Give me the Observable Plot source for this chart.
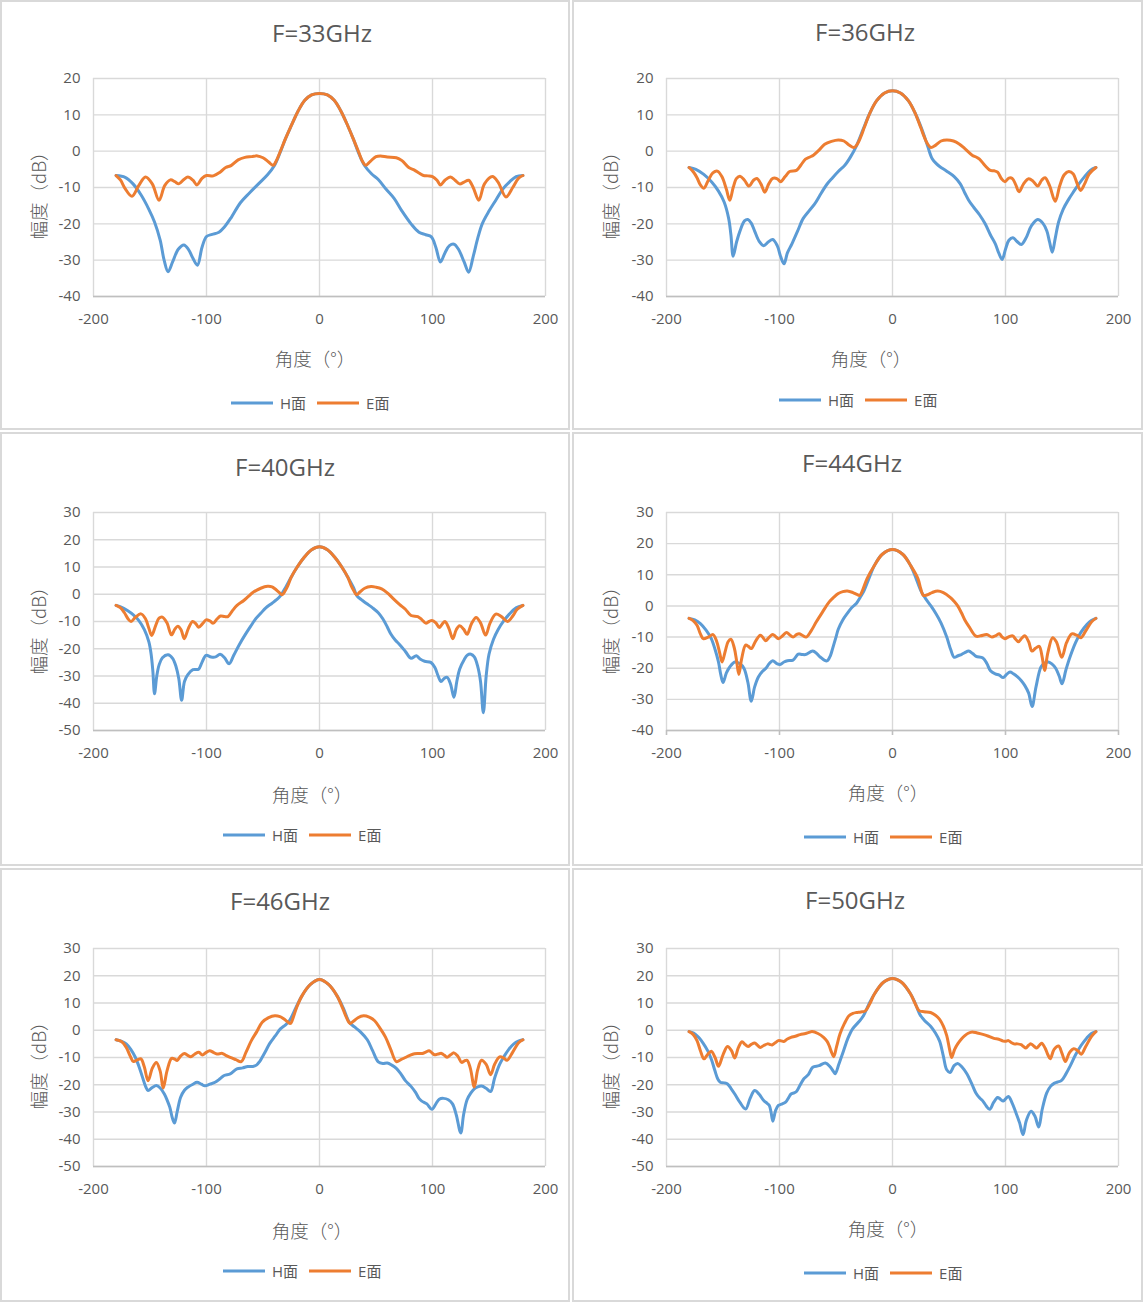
<!DOCTYPE html>
<html><head><meta charset="utf-8">
<script src="https://cdn.jsdelivr.net/npm/d3@7"></script>
<script src="https://cdn.jsdelivr.net/npm/@observablehq/plot@0.6"></script>
<style>
body{margin:0;background:#fff;}
#root{position:relative;width:1143px;height:1303px;overflow:hidden;font-family:"Open Sans","Noto Sans","Noto Sans CJK SC",sans-serif;}
.panel{position:absolute;box-sizing:border-box;border:2px solid #d9d9d9;background:#fff;}
.txt{position:absolute;white-space:nowrap;color:#595959;line-height:1;}
.title{font-size:24px;}
.axlab{font-size:18.5px;font-family:"Noto Sans CJK SC","Noto Sans",sans-serif;font-weight:300;}
.legend{position:absolute;display:flex;align-items:center;color:#595959;font-size:15px;font-family:"Open Sans","Noto Sans CJK SC",sans-serif;white-space:nowrap;line-height:1;}
.legend .sw{display:inline-block;width:42px;height:3px;margin-right:7px;}
.legend .it{display:flex;align-items:center;margin-right:11px;}
</style>
</head><body><div id="root"></div>
<script>
// ---------- data ----------
const titles = ["F=33GHz","F=36GHz","F=40GHz","F=44GHz","F=46GHz","F=50GHz"];
const seriesNames = ["H面","E面"];
const xTicks = [-200,-100,0,100,200];
const yTicksA = [-40,-30,-20,-10,0,10,20];
const yTicksB = [-50,-40,-30,-20,-10,0,10,20,30];
const yTicksC = [-40,-30,-20,-10,0,10,20,30];
const xLabel = "角度（°）";
const yLabel = "幅度（dB）";

const h33 = [[-180,-6.7],[-172,-7.2],[-165,-9],[-158,-12],[-151,-16],[-146,-19.5],[-141,-24.5],[-137.5,-30],[-134,-33.2],[-130,-30.5],[-125,-27],[-120,-25.8],[-116,-27],[-112,-29.5],[-108,-31.4],[-104,-26.5],[-100,-23.5],[-95,-22.9],[-89,-22.3],[-84,-20.8],[-78,-18.2],[-70,-14.2],[-62,-11.5],[-54,-9],[-46,-6.5],[-40,-4],[-35,-0.5],[-30,3.5],[-25,7],[-19,11],[-13,14],[-7,15.5],[0,15.9],[7,15.5],[13,14],[19,11],[25,7],[30,3.3],[35,-0.8],[40,-4],[46,-6.2],[52,-7.8],[59,-10.5],[66,-13],[73,-16.5],[81,-20],[88,-22.3],[94,-23],[99,-23.6],[103,-26.5],[107,-30.5],[111,-28],[115,-26],[119,-25.6],[123,-27],[128,-30.5],[132,-33.3],[136,-29],[140,-24],[144,-20],[150,-16.5],[156,-13.5],[162,-10.5],[168,-8.5],[174,-7],[180,-6.7]];
const e33 = [[-180,-6.7],[-176,-8],[-172,-10.3],[-166,-12.4],[-160,-9.5],[-154,-7.1],[-148,-9],[-142,-13.5],[-137,-9.5],[-132,-7.9],[-128,-8.4],[-124.5,-9],[-120,-7.8],[-116.5,-7.1],[-112,-8],[-108.5,-9.3],[-104,-7.5],[-100,-6.7],[-94,-6.8],[-88,-5.8],[-83,-4.5],[-78,-3.9],[-72,-2.4],[-66,-1.7],[-60,-1.5],[-55,-1.3],[-50,-1.8],[-45,-3],[-41,-3.9],[-38,-2.5],[-35,-0.3],[-30,3.5],[-25,7],[-19,11],[-13,14],[-7,15.5],[0,15.9],[7,15.5],[13,14],[19,11],[25,7],[30,3.3],[35,-0.5],[38,-2.8],[41,-3.9],[45,-2.8],[50,-1.5],[54,-1.3],[60,-1.6],[68,-1.8],[73,-2.6],[79,-4.5],[84,-5.2],[88,-6],[92,-6.7],[96,-6.8],[100,-7],[104,-8],[107,-9.3],[111,-8],[116,-7.1],[120,-8],[124,-9],[128,-8.5],[132,-8],[136,-10],[141,-13.5],[146,-9],[153,-7],[158,-8.5],[165,-12.6],[171,-10],[176,-7.5],[180,-6.7]];

const h36 = [[-180,-4.5],[-174,-5],[-167,-6.4],[-160,-8.5],[-154,-11],[-149,-14],[-145,-18.5],[-143,-23],[-141,-28.9],[-138,-25],[-135,-22],[-131,-19.2],[-128,-18.8],[-125,-19.8],[-122,-22],[-118,-24.8],[-114,-26],[-110,-25],[-106,-24.3],[-102,-26],[-99,-29],[-96,-31],[-93,-28],[-89,-25.5],[-84,-22],[-79,-18.5],[-74,-16.5],[-69,-14.6],[-63,-11.5],[-58,-9.1],[-53,-7.3],[-48,-5.6],[-42,-3.8],[-37,-1.5],[-32,1.4],[-26,6],[-20,10.5],[-14,13.9],[-7,16],[0,16.6],[7,16],[14,13.9],[20,10.5],[26,6],[31,1.5],[35,-2],[39,-3.5],[42,-4.3],[48,-5.5],[54.6,-7],[60,-9],[64,-11.5],[67.4,-13.5],[72,-15.5],[77,-17.5],[82,-20],[86.6,-23],[91,-25.5],[94,-28],[97,-29.8],[100,-27],[103,-24.5],[106.6,-23.8],[110,-24.8],[114,-25.7],[118,-24],[123,-20.5],[128.5,-18.8],[133,-19.8],[136.6,-22],[139,-25],[141.4,-27.8],[144,-24],[147,-19.5],[151,-16],[156,-13.2],[160.6,-11],[165,-9],[170,-7],[175,-5.3],[180,-4.5]];
const e36 = [[-180,-4.5],[-176,-5.8],[-173,-7.3],[-170,-9.3],[-167,-10.2],[-163,-8],[-159,-6],[-155,-5.5],[-151,-7],[-147,-10.5],[-144,-13.5],[-141,-10],[-138,-7.5],[-135,-6.9],[-131,-8],[-127,-9.6],[-123,-8],[-120,-7.5],[-116.5,-9],[-113,-11.3],[-109.5,-9],[-106,-7.5],[-102,-7.6],[-99,-8.4],[-95,-7],[-91,-5.6],[-85,-5.3],[-81,-3.8],[-77,-2.2],[-73,-1.6],[-70,-1.1],[-65,0.3],[-60,1.9],[-54,2.7],[-48,3.1],[-43,2.8],[-38.5,1.7],[-34,1],[-31,2],[-28,4],[-25,6.5],[-20,10.5],[-14,13.9],[-7,16],[0,16.6],[7,16],[14,13.9],[20,10.5],[25,6.5],[28,4],[31,2],[34,1],[38,1.6],[43,2.8],[48,3.1],[54,2.8],[59,2],[64,0.7],[70.5,-1.1],[74,-1.6],[77,-2.2],[82,-4],[86.6,-5.3],[90,-5.4],[93,-5.8],[96.5,-7.6],[99.5,-8.4],[103,-7.4],[106,-7.5],[109,-9.2],[112,-11.2],[116,-9],[120.5,-7.6],[124.5,-8.3],[128.5,-9.6],[132,-8],[135,-7.3],[139,-9.5],[144,-13.8],[148,-9.5],[152,-6.5],[156,-5.6],[160,-6.3],[163.5,-9],[166.5,-10.8],[170,-9],[174,-6.3],[180,-4.5]];

const h40 = [[-180,-4.1],[-175,-4.8],[-170,-6],[-165,-7.5],[-160,-9.6],[-155,-13],[-151,-17.5],[-149,-22],[-147.5,-28],[-146,-36.5],[-144,-30],[-142,-26],[-139,-23.3],[-134,-22.2],[-130,-23.5],[-127,-26.5],[-124.5,-31],[-122,-38.9],[-119.5,-32],[-116.5,-29.5],[-112,-27.7],[-107,-27.5],[-104,-25],[-100.4,-22.4],[-96,-23],[-92,-23],[-88,-22],[-84,-23.3],[-80,-25.5],[-76,-22.5],[-71,-18.5],[-66,-15],[-61,-11.8],[-57,-9.3],[-52,-7],[-47.5,-5],[-42,-3.3],[-38,-2],[-34.6,-0.6],[-30,2.5],[-25,6.3],[-20,9.8],[-14,13.3],[-7,16.3],[0,17.4],[7,16.3],[14,13.3],[20,9.8],[25,6.3],[30,2.5],[33,-0.5],[37,-2],[42,-3.5],[47,-5],[52,-6.8],[56,-9],[60,-12],[63,-14.5],[67,-16.8],[71,-18.5],[76,-21],[81,-23.5],[85.7,-22.6],[89,-23.8],[93,-24.6],[98.5,-25],[102,-26.8],[105,-30],[107.5,-32],[110.5,-30.8],[113,-30.5],[116,-33],[119,-37.8],[121.5,-32],[124,-27.5],[128,-24],[131,-22.3],[134,-22],[137,-23],[140,-26.5],[142.5,-32],[145,-43.5],[147.5,-30],[150,-22],[154,-16.5],[158,-13],[163,-9.8],[168,-7.3],[174,-5],[180,-4.1]];
const e40 = [[-180,-4.1],[-176,-5],[-172.6,-6.8],[-169.5,-9],[-166.8,-10],[-163,-8.5],[-158,-7.2],[-154,-9],[-151,-12.5],[-148.5,-15.1],[-145,-11.5],[-142,-8.8],[-139,-8.4],[-135,-10.5],[-131,-14.9],[-128,-12.8],[-125.4,-11.7],[-122.5,-13],[-119.7,-16.3],[-116,-12.5],[-112.3,-10],[-109.5,-10.8],[-107,-12.1],[-103.5,-10.8],[-100.4,-9.4],[-97,-9.8],[-94,-10.6],[-90.5,-9],[-87.6,-8],[-84,-8.2],[-81,-8.2],[-77,-6],[-73,-4.1],[-67,-2.3],[-63,-0.8],[-58.7,0.7],[-52,2.2],[-46,2.9],[-42,2.7],[-39.5,2],[-36,0.8],[-33,-0.2],[-30.5,1.2],[-28,3.2],[-25,6.3],[-20,9.8],[-14,13.3],[-7,16.3],[0,17.4],[7,16.3],[14,13.3],[20,9.8],[25,6.3],[28,3.2],[30.5,1.2],[32.7,-0.2],[36,0.9],[40,2.2],[45.6,2.8],[50,2.6],[55,2],[60,0.5],[65,-1.5],[71,-3.8],[76,-5.5],[81,-7.8],[87,-8.2],[90.5,-9.3],[94,-10.6],[97,-10],[99.5,-9.6],[103,-10.5],[106,-12.2],[108.5,-11],[111,-10],[114.5,-12.5],[118,-16.3],[121,-13],[124,-11.6],[127.5,-12.8],[130.6,-14.7],[134.5,-10.8],[138.6,-8.5],[142.5,-10.5],[147,-15],[151,-10.5],[156,-7.3],[161,-8.2],[166.5,-10],[171,-8],[175,-5.5],[180,-4.1]];

const h44 = [[-180,-4],[-175,-4.5],[-170,-5.7],[-165,-7.8],[-160.4,-10.5],[-157,-14],[-154,-18],[-152,-22],[-150,-24.6],[-147,-21.5],[-144,-19.6],[-139.5,-18],[-135,-18.6],[-131.5,-20],[-128,-24.5],[-125,-30.6],[-122,-26],[-118.7,-22.8],[-115,-21],[-112,-20],[-109,-18.5],[-106,-17.6],[-102.5,-18.5],[-99.5,-18.8],[-96,-18],[-93,-17.6],[-88,-17.4],[-83.4,-15.5],[-80,-15.6],[-77,-15.6],[-70.6,-14.5],[-67,-15.3],[-64,-16.4],[-60,-17.5],[-57.7,-17.6],[-55,-16],[-53,-13.7],[-50,-10],[-48,-7.5],[-44,-4.5],[-40,-2.4],[-36,-0.5],[-32,0.8],[-28.5,2.8],[-25.7,4.5],[-21,8.7],[-16,13],[-9,16.6],[0,18.1],[9,16.6],[16,13],[21,8.7],[25.5,4.6],[29,2.5],[34,0],[38.5,-2.5],[43,-5.5],[48,-10],[51.5,-14],[54.6,-16.5],[58,-16],[61,-15.6],[64,-15],[67.4,-14.5],[71,-15.3],[74,-16.2],[80,-16.7],[83.5,-18.5],[86.7,-20.8],[91,-21.8],[94.5,-22.2],[97.9,-23],[101,-22],[104,-21.2],[107,-21.8],[110.7,-22.8],[114,-24],[117,-25.5],[120.5,-28],[123.5,-32.3],[127,-26],[131.5,-19.5],[135,-18.3],[138,-18],[141,-18.6],[144.4,-20],[147.5,-22.5],[150,-25],[153.5,-20.5],[157,-16.5],[162,-11.8],[166.7,-8.5],[172,-6],[176,-4.7],[180,-4]];
const e44 = [[-180,-4],[-176.5,-4.7],[-173,-6.2],[-170,-9],[-167.5,-10.5],[-163,-10],[-158.8,-9.2],[-155.5,-11.5],[-153,-15],[-150.8,-18],[-148,-14.5],[-145.5,-11.5],[-143,-10.7],[-140,-13.5],[-138,-17.5],[-136,-22],[-133.5,-17],[-130,-12.6],[-127.5,-13],[-125,-13.7],[-121,-11.2],[-117,-9.4],[-114.5,-10.2],[-112.3,-11.2],[-109,-10],[-106,-9.2],[-103.5,-9.8],[-101,-10.5],[-97,-9.5],[-93.7,-8.5],[-91,-9.3],[-88,-10],[-85,-9.2],[-82.7,-8.9],[-79.5,-9.5],[-76.4,-10],[-72,-8],[-67.4,-5.1],[-62,-2],[-56,1.3],[-52,2.8],[-48,4],[-44,4.6],[-40,4.8],[-35,4.3],[-31.5,3.7],[-29,3.4],[-26,5.5],[-22.5,8.8],[-16,13],[-9,16.6],[0,18.1],[9,16.6],[16,13],[22.5,8.8],[25,5.5],[27.3,3.4],[31,3.6],[35,4.3],[40,4.8],[45,4.3],[51.3,2.7],[54.5,1.5],[57.7,0],[61,-2.2],[64,-4.5],[68,-6.8],[73.8,-9.7],[78,-9.6],[83.4,-9.2],[88,-10],[91.5,-9.5],[94.6,-8.9],[97,-10],[99.4,-10.5],[103,-9.9],[106.4,-9.6],[109,-10.7],[111.5,-11.5],[114.5,-10.3],[117,-9.6],[120.5,-11.5],[123.4,-14.5],[126.5,-13.6],[129.8,-13],[132.5,-16.5],[134.6,-20.7],[137.5,-15],[141.7,-10.2],[145,-11.5],[149.8,-16.5],[154,-11.8],[158.7,-9],[163,-9.4],[166.7,-10.2],[171,-8],[176,-5.2],[180,-4]];

const h46 = [[-180,-3.5],[-175.5,-4],[-171,-5],[-167,-7],[-163,-9.9],[-160,-13],[-156.6,-17.3],[-154,-20.5],[-151.7,-22.1],[-148,-21],[-144.4,-20.3],[-141,-21.2],[-137.3,-23.4],[-134.5,-26],[-132.5,-28.2],[-130,-32.5],[-128.3,-34],[-126,-30],[-122.9,-24.6],[-119.5,-22],[-116.5,-20.9],[-112,-19.8],[-108.4,-19.1],[-104.5,-19.8],[-101.4,-20.4],[-97,-19.8],[-92.4,-19.1],[-88,-17.8],[-84.4,-16.6],[-79,-16],[-73.1,-14.2],[-68,-13.8],[-63.5,-13.3],[-59,-13.3],[-55.5,-12.7],[-53,-11.5],[-50.7,-9.9],[-47.5,-7.5],[-44.3,-5],[-39,-2],[-34.6,0.5],[-30,2],[-26.6,3.5],[-21,8.2],[-15.4,12.7],[-8,16.8],[0,18.6],[8,16.8],[15.4,12.7],[21,8.2],[26.3,3],[31,1.2],[36,-0.5],[42.3,-3.5],[47,-7.5],[52,-11.6],[56,-12.2],[60,-12],[64,-12.8],[68,-14],[72,-16],[76,-18.5],[80.8,-20.5],[85,-22.8],[88,-25],[90.5,-26],[95,-27],[99.4,-29],[103,-27],[106,-25.3],[109.7,-25],[114,-25.5],[117.7,-27],[121,-31],[125,-37.7],[127.5,-31],[130.6,-25.5],[134,-23],[137,-21.5],[140,-20.8],[143.4,-20.5],[147.5,-21.3],[151.4,-22.5],[155,-17.5],[159.4,-12.5],[163.5,-9.5],[167.5,-7],[172,-5],[176,-4],[180,-3.5]];
const e46 = [[-180,-3.5],[-175,-4.2],[-171,-6.3],[-167.5,-9.5],[-164.6,-11.5],[-161,-10.8],[-158,-10.5],[-155,-13.5],[-151.7,-18.5],[-148,-14],[-144.4,-11.8],[-141,-15],[-138.3,-21.2],[-135,-15],[-130.9,-10.3],[-128,-10.6],[-126,-11.1],[-123,-9.5],[-119.7,-8.5],[-117,-9.1],[-113.9,-9.7],[-110.5,-8.8],[-106.8,-8.1],[-103.6,-9.1],[-100.5,-8.2],[-97.2,-7.5],[-94,-8.1],[-90.8,-8.7],[-86,-8.5],[-83,-9.2],[-79.6,-9.9],[-74,-10.8],[-69.3,-11.5],[-65,-8],[-60.3,-3.8],[-55.5,-0.5],[-50.7,2.9],[-45,4.6],[-39.5,5.3],[-35,5],[-31.4,4.1],[-28.5,3.2],[-25.7,2.5],[-23,5],[-20.2,8.4],[-15.4,12.7],[-8,16.8],[0,18.6],[8,16.8],[15.4,12.7],[20.2,8.4],[23.5,5],[27,2.5],[30,3.3],[34,4.6],[39,5.3],[44,4.8],[48.8,3.5],[53.5,0.8],[58.4,-2.5],[63,-7],[68,-11.5],[72,-10.8],[76,-10],[80,-9.2],[84,-8.6],[87.3,-8.5],[91,-8.5],[94,-8],[97,-7.5],[99.5,-8.3],[101.7,-9],[105,-8.7],[108,-8.5],[110.5,-9.2],[113,-9.9],[116,-9],[119,-8.3],[122.5,-9.6],[125.8,-11.8],[128,-11.3],[130.6,-11],[133.5,-14],[137,-20.8],[140,-14.5],[143.4,-11],[147.5,-12.5],[151.4,-16.3],[155,-12.5],[159.4,-9.8],[163,-10.2],[166,-11],[171,-8],[176,-4.7],[180,-3.5]];

const h50 = [[-180,-0.5],[-176,-1],[-171.6,-2.6],[-167.5,-4.8],[-163.6,-7.5],[-160,-11],[-157.2,-14.8],[-154.5,-18],[-152.4,-19.1],[-149,-19.3],[-146,-19.7],[-143,-21.3],[-139.6,-23.4],[-135,-26.5],[-130,-28.9],[-126,-25],[-122,-22.1],[-118,-23.5],[-114,-25.8],[-111,-26.8],[-109,-27.6],[-107.5,-30],[-105.9,-33.4],[-103.5,-29.5],[-101,-27.6],[-97.5,-27],[-94.6,-26.4],[-92,-24.8],[-89.8,-23.4],[-87,-23],[-85,-22.5],[-82,-20.3],[-78.6,-17.9],[-74.5,-16.3],[-70.6,-13.6],[-65,-13],[-59.4,-12],[-55,-13.5],[-52,-15.3],[-50.7,-16],[-47.5,-12.5],[-43.3,-7.5],[-39.5,-3],[-35.3,0.5],[-30,3],[-25.7,5.3],[-21,9.5],[-16,13.3],[-8,17.6],[0,19],[8,17.6],[16,13.3],[20,10],[24,6],[28.5,3.5],[33.7,1.5],[38,-1],[41.7,-4],[45,-9.5],[48,-14.5],[51,-15.5],[54.5,-13],[57.7,-12.2],[61.5,-13.5],[65.8,-16],[70,-19.5],[73.8,-23],[77,-24.8],[80,-26],[83,-27.8],[86,-29],[89.5,-26.5],[93,-24.7],[95.5,-25.3],[98,-26],[100.5,-25],[102.6,-24.3],[106,-26.8],[109,-30],[112.5,-34],[115.5,-38.3],[118.5,-33],[122.6,-29.7],[126,-31.5],[129.4,-35.5],[132.5,-29],[136.5,-23],[140,-20.5],[143,-19.5],[146,-19],[149.4,-18.5],[153.5,-16],[157.4,-13],[162,-9],[167,-5.5],[172,-2.8],[176,-1.2],[180,-0.5]];
const e50 = [[-180,-0.5],[-176.5,-1.5],[-173,-3.8],[-170,-7.5],[-166.8,-10.5],[-163.5,-8.8],[-160.4,-7.7],[-157,-10],[-154,-13.2],[-150,-9],[-146,-6],[-142.5,-7.5],[-139.6,-10.2],[-136.5,-6.5],[-133.2,-4.2],[-130.5,-5.2],[-127.8,-6],[-125,-5.2],[-122,-4.7],[-119.5,-5.5],[-117,-6.3],[-114,-5.6],[-110.6,-5],[-108.5,-5.2],[-106.5,-5.4],[-103.5,-4.5],[-101,-3.8],[-98.5,-3.9],[-96.2,-4.1],[-93,-3.2],[-89.8,-2.6],[-86,-2.2],[-81.8,-1.6],[-77,-1.2],[-74,-0.8],[-71.2,-0.5],[-66,-1.2],[-61,-2.6],[-58,-4],[-56,-5.7],[-54,-8],[-52,-9.7],[-49.5,-6],[-46.5,-1.4],[-42.5,2.5],[-38.5,5.3],[-35,6.2],[-32,6.5],[-28,6.7],[-24,7.1],[-20,9.8],[-16,13.3],[-8,17.6],[0,19],[8,17.6],[16,13.3],[20,9.8],[23.5,7.2],[28,6.8],[33.7,6.5],[38,5.5],[41.7,4],[45,1.5],[48,-2],[50.5,-7],[52.3,-10],[55,-7],[57.7,-5],[61,-3.2],[64,-2],[67,-1.1],[70.5,-0.6],[75,-1],[80,-1.5],[85,-2.2],[89.8,-3],[94,-3.3],[98,-4],[100.5,-4],[102.6,-3.8],[105,-4.5],[107.4,-5],[110.5,-5],[113.8,-5.3],[116,-6],[118,-6.5],[120.5,-5.5],[122.6,-5],[125,-5.8],[127.7,-6.5],[130,-5.5],[132,-4.8],[135,-6.5],[137.5,-9],[139.6,-10.5],[143,-7],[147,-5.8],[150,-8.5],[153,-11.5],[156.5,-8.3],[160.4,-6.8],[164,-7.5],[167,-8.8],[171,-6],[176,-2.3],[180,-0.5]];

const hSeries = [h33,h36,h40,h44,h46,h50];
const eSeries = [e33,e36,e40,e44,e46,e50];
const yDomains = [[-40,20],[-40,20],[-50,30],[-40,30],[-50,30],[-50,30]];
const yTickSets = [yTicksA,yTicksA,yTicksB,yTicksC,yTicksB,yTicksB];

// ---------- layout ----------
const colors = {H:"#5b9bd5", E:"#ed7d31", grid:"#d9d9d9", axis:"#bfbfbf", text:"#595959"};
const layout = [
  {box:[0,0,570,430],   plotL:93,  plotT:77.5, title:[322,33],  xl:[315,358],  yl:[38,191],   leg:[231,403], tick:0},
  {box:[572,0,571,430], plotL:666, plotT:77.5, title:[865,32],  xl:[871,358],  yl:[610,191],  leg:[779,400], tick:0},
  {box:[0,432,570,434], plotL:93,  plotT:512,  title:[285,467], xl:[312,794],  yl:[38,626],   leg:[223,835], tick:0},
  {box:[572,432,571,434],plotL:666,plotT:512,  title:[852,463], xl:[888,792],  yl:[610,626],  leg:[804,837], tick:5},
  {box:[0,868,570,434], plotL:93,  plotT:947.5,title:[280,901], xl:[312,1230], yl:[38,1061],  leg:[223,1271],tick:0},
  {box:[572,868,571,434],plotL:666,plotT:947.5,title:[855,900], xl:[888,1228], yl:[610,1061], leg:[804,1273],tick:0}
];
const PW = 452, PH = 218, MT = 20, MB = 32, ML = 93;

const root = document.getElementById("root");
function addText(str, cx, cy, cls, rotate) {
  const d = document.createElement("div");
  d.className = "txt " + cls;
  d.textContent = str;
  d.style.left = cx + "px"; d.style.top = cy + "px";
  d.style.transform = "translate(-50%,-50%)" + (rotate ? " rotate(-90deg)" : "");
  root.appendChild(d);
}
const toRows = arr => arr.map(([a, v]) => ({a, v}));

titles.forEach((t, i) => {
  const L = layout[i];
  const box = document.createElement("div");
  box.className = "panel";
  Object.assign(box.style, {left: L.box[0]+"px", top: L.box[1]+"px", width: L.box[2]+"px", height: L.box[3]+"px"});
  root.appendChild(box);

  const plot = Plot.plot({
    width: ML + PW + 25, height: MT + PH + MB,
    marginLeft: ML, marginRight: 25, marginTop: MT, marginBottom: MB,
    x: {domain: [-200, 200]},
    y: {domain: yDomains[i]},
    style: {fontFamily: '"Open Sans","Noto Sans",sans-serif', fontSize: "15px", color: colors.text, background: "none", overflow: "visible"},
    marks: [
      Plot.gridX({ticks: xTicks, stroke: colors.grid, strokeOpacity: 1, strokeWidth: 1.4}),
      Plot.gridY({ticks: yTickSets[i], stroke: colors.grid, strokeOpacity: 1, strokeWidth: 1.4}),
      Plot.ruleY([yDomains[i][0]], {stroke: colors.axis, strokeWidth: 1.6}),
      Plot.axisX({ticks: xTicks, tickSize: L.tick, stroke: colors.axis, strokeWidth: 1.6, tickPadding: 17 - L.tick, tickFormat: d => String(d), label: null}),
      Plot.axisY({ticks: yTickSets[i], tickSize: 0, tickPadding: 13, tickFormat: d => String(d), label: null}),
      Plot.line(toRows(hSeries[i]), {x: "a", y: "v", stroke: colors.H, strokeWidth: 3, curve: "catmull-rom", strokeLinejoin: "round"}),
      Plot.line(toRows(eSeries[i]), {x: "a", y: "v", stroke: colors.E, strokeWidth: 3, curve: "catmull-rom", strokeLinejoin: "round"})
    ]
  });
  plot.style.position = "absolute";
  plot.style.left = (L.plotL - ML) + "px";
  plot.style.top = (L.plotT - MT) + "px";
  root.appendChild(plot);

  addText(t, L.title[0], L.title[1], "title");
  addText(xLabel, L.xl[0], L.xl[1], "axlab");
  addText(yLabel, L.yl[0], L.yl[1], "axlab", true);

  const leg = document.createElement("div");
  leg.className = "legend";
  leg.style.left = L.leg[0] + "px"; leg.style.top = L.leg[1] + "px";
  leg.style.transform = "translateY(-50%)";
  [[seriesNames[0], colors.H], [seriesNames[1], colors.E]].forEach(([name, c]) => {
    const it = document.createElement("span"); it.className = "it";
    const sw = document.createElement("span"); sw.className = "sw"; sw.style.background = c;
    const tx = document.createElement("span"); tx.textContent = name;
    it.appendChild(sw); it.appendChild(tx); leg.appendChild(it);
  });
  root.appendChild(leg);
});
</script>
</body></html>
